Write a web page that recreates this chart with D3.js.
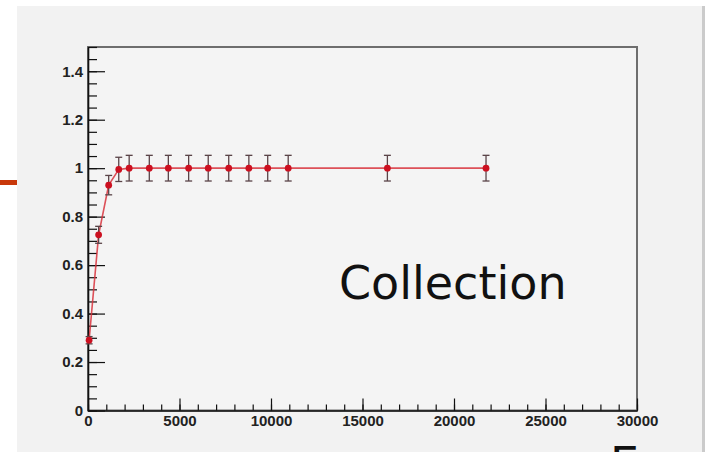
<!DOCTYPE html>
<html>
<head>
<meta charset="utf-8">
<script src="https://cdn.jsdelivr.net/npm/d3@7"></script>
<style>
  html, body { margin: 0; padding: 0; background: #ffffff; }
  svg { display: block; }
  .tick text { font-family: "Liberation Sans", Arial, sans-serif; font-weight: bold; font-size: 15px; fill: #222; }
</style>
</head>
<body>
<svg id="chart" width="708" height="452"></svg>
<script>
// Measurement points: sample size vs. efficiency, with uncertainties
const xValues = [60, 580, 1130, 1680, 2250, 3350, 4390, 5500, 6570, 7690, 8790, 9820, 10940, 16360, 21750];
const yValues = [0.29, 0.725, 0.93, 0.995, 1.0, 1.0, 1.0, 1.0, 1.0, 1.0, 1.0, 1.0, 1.0, 1.0, 1.0];
const yErrors = [0.015, 0.035, 0.04, 0.05, 0.053, 0.053, 0.053, 0.053, 0.053, 0.053, 0.053, 0.053, 0.053, 0.053, 0.053];
const xTickValues = [0, 5000, 10000, 15000, 20000, 25000, 30000];
const yTickValues = [0, 0.2, 0.4, 0.6, 0.8, 1, 1.2, 1.4];

const svg = d3.select("#chart");

// Canvas panel and side decorations
svg.append("rect").attr("x", 17).attr("y", 6).attr("width", 685).attr("height", 446).attr("fill", "#f2f2f2");
svg.append("rect").attr("x", 702).attr("y", 6).attr("width", 3).attr("height", 446).attr("fill", "#cbcbcb");
svg.append("rect").attr("x", 0).attr("y", 180).attr("width", 17).attr("height", 5).attr("fill", "#c8380a");

const x = d3.scaleLinear().domain([0, 30000]).range([88, 637]);
const y = d3.scaleLinear().domain([0, 1.5]).range([410.5, 47]);

// Plot frame
svg.append("rect")
  .attr("x", x(0)).attr("y", y(1.5))
  .attr("width", x(30000) - x(0)).attr("height", y(0) - y(1.5))
  .attr("fill", "#f4f4f4").attr("stroke", "#6e6e6e").attr("stroke-width", 2);

// Minor ticks
svg.append("g").attr("transform", `translate(0,${y(0)})`)
  .call(d3.axisBottom(x).tickValues(d3.range(0, 30001, 1000)).tickSizeInner(-6).tickSizeOuter(0).tickFormat(""))
  .call(g => g.select(".domain").remove())
  .call(g => g.selectAll("line").attr("stroke", "#111").attr("stroke-width", 1.2));
svg.append("g").attr("transform", `translate(${x(0)},0)`)
  .call(d3.axisLeft(y).tickValues(d3.range(0, 31).map(i => i * 0.05)).tickSizeInner(-9).tickSizeOuter(0).tickFormat(""))
  .call(g => g.select(".domain").remove())
  .call(g => g.selectAll("line").attr("stroke", "#111").attr("stroke-width", 1.2));

// Major ticks with labels
svg.append("g").attr("transform", `translate(0,${y(0)})`)
  .call(d3.axisBottom(x).tickValues(xTickValues).tickSizeInner(-12).tickSizeOuter(0).tickPadding(5).tickFormat(d3.format("d")))
  .call(g => g.select(".domain").attr("stroke", "#111").attr("stroke-width", 1.6))
  .call(g => g.selectAll("line").attr("stroke", "#111").attr("stroke-width", 1.2))
  .call(g => g.selectAll("text").attr("dy", "0.71em"));
svg.append("g").attr("transform", `translate(${x(0)},0)`)
  .call(d3.axisLeft(y).tickValues(yTickValues).tickSizeInner(-17).tickSizeOuter(0).tickPadding(5).tickFormat(d => d3.format("")(+d.toFixed(1))))
  .call(g => g.select(".domain").attr("stroke", "#111").attr("stroke-width", 1.6))
  .call(g => g.selectAll("line").attr("stroke", "#111").attr("stroke-width", 1.2));

const pts = xValues.map((v, i) => ({ x: v, y: yValues[i], e: yErrors[i] }));

// Connecting line
svg.append("path").datum(pts)
  .attr("fill", "none").attr("stroke", "#d8323c").attr("stroke-width", 1.6).attr("stroke-opacity", 0.85)
  .attr("d", d3.line().x(d => x(d.x)).y(d => y(d.y)));

// Error bars
const eb = svg.append("g").attr("stroke", "#5a4448").attr("stroke-width", 1.3);
eb.selectAll(".v").data(pts).join("line")
  .attr("x1", d => x(d.x)).attr("x2", d => x(d.x))
  .attr("y1", d => y(d.y + d.e)).attr("y2", d => y(d.y - d.e));
eb.selectAll(".t").data(pts).join("line")
  .attr("x1", d => x(d.x) - 3.5).attr("x2", d => x(d.x) + 3.5)
  .attr("y1", d => y(d.y + d.e)).attr("y2", d => y(d.y + d.e));
eb.selectAll(".b").data(pts).join("line")
  .attr("x1", d => x(d.x) - 3.5).attr("x2", d => x(d.x) + 3.5)
  .attr("y1", d => y(d.y - d.e)).attr("y2", d => y(d.y - d.e));

// Markers
svg.append("g").selectAll("circle").data(pts).join("circle")
  .attr("cx", d => x(d.x)).attr("cy", d => y(d.y)).attr("r", 3.4)
  .attr("fill", "#cc1020");

// Overlay text
svg.append("text").attr("x", 339).attr("y", 299)
  .attr("font-family", "'DejaVu Sans', Verdana, sans-serif").attr("font-size", 46).attr("fill", "#111")
  .text("Collection");
svg.append("text").attr("x", 610).attr("y", 480)
  .attr("font-family", "'DejaVu Sans', Verdana, sans-serif").attr("font-size", 46).attr("fill", "#111")
  .text("E");
</script>
</body>
</html>
